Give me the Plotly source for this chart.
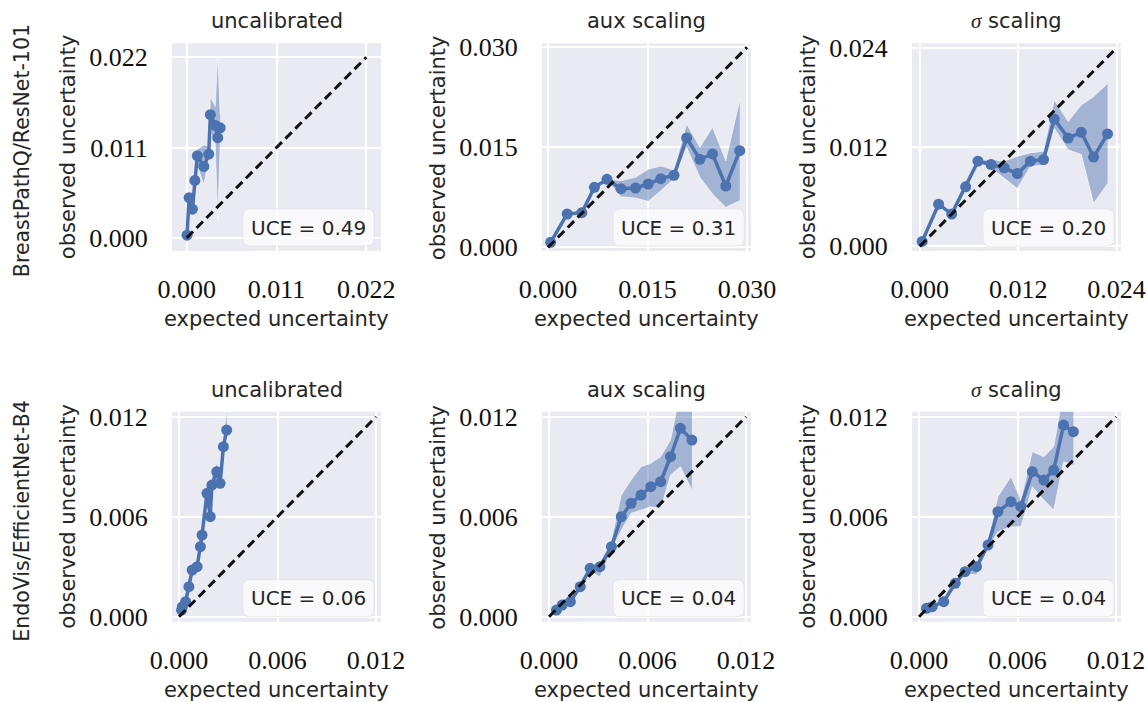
import plotly.graph_objects as go

W, H = 1148, 702
OFF = 0

# ---------------- data ----------------
row_labels = ["BreastPathQ/ResNet-101", "EndoVis/EfficientNet-B4"]
col_titles = ["uncalibrated", "aux scaling", "<span style=\"font-family:'Liberation Serif'\"><i>σ</i></span> scaling"]
uce_values = ["0.49", "0.31", "0.20", "0.06", "0.04", "0.04"]
tick_max = [0.022, 0.030, 0.024, 0.012, 0.012, 0.012]

# BreastPathQ / uncalibrated
bp_uncal_x = [0.00004, 0.0003, 0.0007, 0.0010, 0.0013, 0.0021, 0.0027, 0.0029, 0.0035, 0.0038, 0.0041]
bp_uncal_y = [0.00033, 0.0049, 0.0035, 0.0070, 0.0100, 0.0087, 0.0102, 0.0150, 0.0137, 0.0122, 0.0134]
bp_uncal_lo = [0.0003, 0.0045, 0.0030, 0.0063, 0.0088, 0.0065, 0.0095, 0.0130, 0.0115, 0.0023, 0.0115]
bp_uncal_hi = [0.0004, 0.0053, 0.0040, 0.0077, 0.0108, 0.0113, 0.0112, 0.0172, 0.0160, 0.0222, 0.0150]

# BreastPathQ / aux scaling
bp_aux_x = [0.0004, 0.0029, 0.0051, 0.0070, 0.0089, 0.0110, 0.0132, 0.0151, 0.0170, 0.0190, 0.0209, 0.0229, 0.0248, 0.0268, 0.0289]
bp_aux_y = [0.00075, 0.0050, 0.0052, 0.0090, 0.0102, 0.0088, 0.0089, 0.0095, 0.0103, 0.0108, 0.0164, 0.0132, 0.0140, 0.0092, 0.0145]
bp_aux_lo = [0.0007, 0.0049, 0.0051, 0.0089, 0.0101, 0.0076, 0.0074, 0.0069, 0.0085, 0.0103, 0.0150, 0.0105, 0.0080, 0.0060, 0.0070]
bp_aux_hi = [0.0008, 0.0051, 0.0053, 0.0091, 0.0103, 0.0100, 0.0105, 0.0117, 0.0122, 0.0116, 0.0185, 0.0150, 0.0180, 0.0130, 0.0220]

# BreastPathQ / sigma scaling
bp_sig_x = [0.0003, 0.0023, 0.0039, 0.0056, 0.0071, 0.0087, 0.0103, 0.0119, 0.0135, 0.0151, 0.0164, 0.0181, 0.0197, 0.0212, 0.0229]
bp_sig_y = [0.0006, 0.0051, 0.0039, 0.0072, 0.0103, 0.0099, 0.0095, 0.0088, 0.0103, 0.0105, 0.0154, 0.0131, 0.0138, 0.0108, 0.0136]
bp_sig_lo = [0.0005, 0.0050, 0.0038, 0.0071, 0.0102, 0.0095, 0.0082, 0.0070, 0.0097, 0.0098, 0.0143, 0.0117, 0.0111, 0.0052, 0.0076]
bp_sig_hi = [0.0007, 0.0052, 0.0040, 0.0073, 0.0104, 0.0105, 0.0103, 0.0109, 0.0113, 0.0115, 0.0177, 0.0151, 0.0171, 0.0181, 0.0197]

# EndoVis / uncalibrated
ev_uncal_x = [0.00015, 0.0002, 0.0004, 0.0006, 0.0008, 0.0011, 0.0013, 0.0014, 0.0017, 0.0019, 0.0020, 0.0023, 0.0025, 0.0027, 0.0029]
ev_uncal_y = [0.0004, 0.0006, 0.0009, 0.0018, 0.0028, 0.0030, 0.0042, 0.0049, 0.0074, 0.0060, 0.0079, 0.0087, 0.0080, 0.0102, 0.0112]
ev_uncal_lo = [0.0003, 0.0005, 0.0008, 0.0016, 0.0026, 0.0027, 0.0039, 0.0045, 0.0068, 0.0056, 0.0074, 0.0082, 0.0076, 0.0098, 0.0108]
ev_uncal_hi = [0.0005, 0.0007, 0.0010, 0.0020, 0.0030, 0.0033, 0.0045, 0.0053, 0.0082, 0.0066, 0.0086, 0.0092, 0.0086, 0.0108, 0.0124]

# EndoVis / aux scaling
ev_aux_x = [0.00045, 0.0008, 0.0013, 0.0019, 0.0025, 0.0031, 0.0038, 0.0044, 0.0050, 0.0056, 0.0062, 0.0068, 0.0074, 0.0080, 0.0087]
ev_aux_y = [0.0004, 0.0007, 0.0009, 0.0018, 0.0029, 0.0030, 0.0042, 0.0060, 0.0068, 0.0073, 0.0078, 0.0081, 0.0096, 0.0113, 0.0106]
ev_aux_lo = [0.0003, 0.0006, 0.0008, 0.0017, 0.0027, 0.0024, 0.0040, 0.0052, 0.0062, 0.0064, 0.0066, 0.0065, 0.0085, 0.0090, 0.0076]
ev_aux_hi = [0.0005, 0.0008, 0.0010, 0.0019, 0.0031, 0.0032, 0.0046, 0.0073, 0.0082, 0.0090, 0.0092, 0.0096, 0.0106, 0.0135, 0.0135]

# EndoVis / sigma scaling
ev_sig_x = [0.00045, 0.0008, 0.0015, 0.0022, 0.0028, 0.0035, 0.0042, 0.0048, 0.0056, 0.0062, 0.0069, 0.0076, 0.0082, 0.0088, 0.0094]
ev_sig_y = [0.0005, 0.0006, 0.0009, 0.0020, 0.0027, 0.0030, 0.0043, 0.0063, 0.0069, 0.0066, 0.0087, 0.0082, 0.0088, 0.0115, 0.0111]
ev_sig_lo = [0.0004, 0.0005, 0.0008, 0.0019, 0.0026, 0.0025, 0.0041, 0.0051, 0.0054, 0.0054, 0.0078, 0.0070, 0.0064, 0.0093, 0.0091]
ev_sig_hi = [0.0006, 0.0007, 0.0010, 0.0021, 0.0028, 0.0032, 0.0046, 0.0072, 0.0084, 0.0070, 0.0099, 0.0096, 0.0102, 0.0135, 0.0135]

panels = [
    (bp_uncal_x, bp_uncal_y, bp_uncal_lo, bp_uncal_hi),
    (bp_aux_x, bp_aux_y, bp_aux_lo, bp_aux_hi),
    (bp_sig_x, bp_sig_y, bp_sig_lo, bp_sig_hi),
    (ev_uncal_x, ev_uncal_y, ev_uncal_lo, ev_uncal_hi),
    (ev_aux_x, ev_aux_y, ev_aux_lo, ev_aux_hi),
    (ev_sig_x, ev_sig_y, ev_sig_lo, ev_sig_hi),
]

# ---------------- layout geometry (page pixels) ----------------
col_px = [(172, 381), (542, 751), (912, 1121)]
row_px = [(43.3, 251.0), (411.7, 621.7)]
x_ranges = [[-0.0018, 0.0238], [-0.0009, 0.0306], [-0.00094, 0.02454],
            [-0.00043, 0.0123], [-0.00043, 0.0123], [-0.00043, 0.0123]]
y_ranges = [[-0.0016, 0.0237], [-0.00055, 0.0306], [-0.00056, 0.02456],
            [-0.0003, 0.0123], [-0.0003, 0.0123], [-0.0003, 0.0123]]

BLUE = "#4C72B0"
BAND = "rgba(76,114,176,0.45)"
BG = "#EAEAF2"
TXT = "#262626"
SANS = "DejaVu Sans"
SERIF = "Liberation Serif"


def px2x(p):
    return (p - OFF) / W


def px2y(p):
    return 1 - (p - OFF) / H


fig = go.Figure()
annotations = []
shapes = []

for i, (xs, ys, lo, hi) in enumerate(panels):
    r, c = divmod(i, 3)
    sfx = "" if i == 0 else str(i + 1)
    xa, ya = "x" + sfx, "y" + sfx
    # band
    fig.add_trace(go.Scatter(x=xs, y=hi, mode="lines", line=dict(color="rgba(255,255,255,0.55)", width=1),
                             xaxis=xa, yaxis=ya, showlegend=False, hoverinfo="skip"))
    fig.add_trace(go.Scatter(x=xs, y=lo, mode="lines", line=dict(color="rgba(255,255,255,0.55)", width=1),
                             fill="tonexty", fillcolor=BAND,
                             xaxis=xa, yaxis=ya, showlegend=False, hoverinfo="skip"))
    # line + markers
    fig.add_trace(go.Scatter(x=xs, y=ys, mode="lines+markers",
                             line=dict(color=BLUE, width=3.5),
                             marker=dict(color=BLUE, size=11),
                             xaxis=xa, yaxis=ya, showlegend=False))
    # diagonal
    m = tick_max[i]
    fig.add_trace(go.Scatter(x=[0, m], y=[0, m], mode="lines",
                             line=dict(color="#111111", width=3, dash="9px,5px"),
                             xaxis=xa, yaxis=ya, showlegend=False, hoverinfo="skip"))

    x0p, x1p = col_px[c]
    y0p, y1p = row_px[r]
    tv = [0, m / 2, m]
    tt = ["%.3f" % v for v in tv]
    axis_common = dict(showgrid=True, gridcolor="white", gridwidth=2, zeroline=False,
                       showline=False, tickvals=tv, ticktext=tt, automargin=False,
                       ticks="outside", tickcolor="rgba(0,0,0,0)",
                       tickfont=dict(family=SERIF, size=26, color="#111111"))
    fig.update_layout(**{
        ("xaxis" + sfx): dict(domain=[px2x(x0p), px2x(x1p)], range=x_ranges[i], anchor=ya,
                              ticklen=15, **axis_common),
        ("yaxis" + sfx): dict(domain=[px2y(y1p), px2y(y0p)], range=y_ranges[i], anchor=xa,
                              ticklen=18, **axis_common),
    })
    # background
    shapes.append(dict(type="rect", xref="paper", yref="paper", layer="below",
                       x0=px2x(x0p), x1=px2x(x1p), y0=px2y(y1p), y1=px2y(y0p),
                       fillcolor=BG, line=dict(width=0)))

    # titles
    cx = (x0p + x1p) / 2
    annotations.append(dict(text=col_titles[c], x=px2x(cx), y=px2y(y0p - 22), xref="paper", yref="paper",
                            showarrow=False, xanchor="center", yanchor="middle",
                            font=dict(family=SANS, size=21, color=TXT)))
    annotations.append(dict(text="expected uncertainty", x=px2x(cx), y=px2y(y1p + 68.5), xref="paper",
                            yref="paper", showarrow=False, xanchor="center", yanchor="middle",
                            font=dict(family=SANS, size=21, color=TXT)))
    cy = (y0p + y1p) / 2
    annotations.append(dict(text="observed uncertainty", x=px2x(x0p - 104), y=px2y(cy), xref="paper",
                            yref="paper", showarrow=False, xanchor="center", yanchor="middle",
                            textangle=-90, font=dict(family=SANS, size=21, color=TXT)))

    # UCE box (rounded)
    bx1, by1 = x1p - 7, y1p - 5
    bx0, by0 = bx1 - 131, by1 - 37
    rr = 7
    pts = [
        ("M", bx0 + rr, by0), ("L", bx1 - rr, by0), ("Q", bx1, by0, bx1, by0 + rr),
        ("L", bx1, by1 - rr), ("Q", bx1, by1, bx1 - rr, by1), ("L", bx0 + rr, by1),
        ("Q", bx0, by1, bx0, by1 - rr), ("L", bx0, by0 + rr), ("Q", bx0, by0, bx0 + rr, by0),
    ]
    path = ""
    for p in pts:
        cmd = p[0]
        coords = p[1:]
        s = []
        for k in range(0, len(coords), 2):
            s.append("%.5f,%.5f" % (px2x(coords[k]), px2y(coords[k + 1])))
        path += cmd + " " + " ".join(s) + " "
    path += "Z"
    shapes.append(dict(type="path", path=path, xref="paper", yref="paper", layer="above",
                       fillcolor="rgba(255,255,255,0.7)", line=dict(color="rgba(220,220,220,0.6)", width=1)))
    annotations.append(dict(text="UCE = " + uce_values[i], x=px2x((bx0 + bx1) / 2), y=px2y((by0 + by1) / 2),
                            xref="paper", yref="paper", showarrow=False, xanchor="center", yanchor="middle",
                            font=dict(family=SANS, size=20, color=TXT)))

# row labels
for r, lab in enumerate(row_labels):
    y0p, y1p = row_px[r]
    annotations.append(dict(text=lab, x=px2x(22), y=px2y((y0p + y1p) / 2 + 4), xref="paper", yref="paper",
                            showarrow=False, xanchor="center", yanchor="middle", textangle=-90,
                            font=dict(family=SANS, size=20.5, color=TXT)))

fig.update_layout(width=W, height=H, autosize=False, margin=dict(l=0, r=0, t=0, b=0),
                  paper_bgcolor="white", plot_bgcolor="rgba(0,0,0,0)",
                  annotations=annotations, shapes=shapes, showlegend=False)

fig.write_html("out.html", config={"displayModeBar": False},
               post_script="document.body.style.margin='0';document.body.style.overflow='hidden';")
